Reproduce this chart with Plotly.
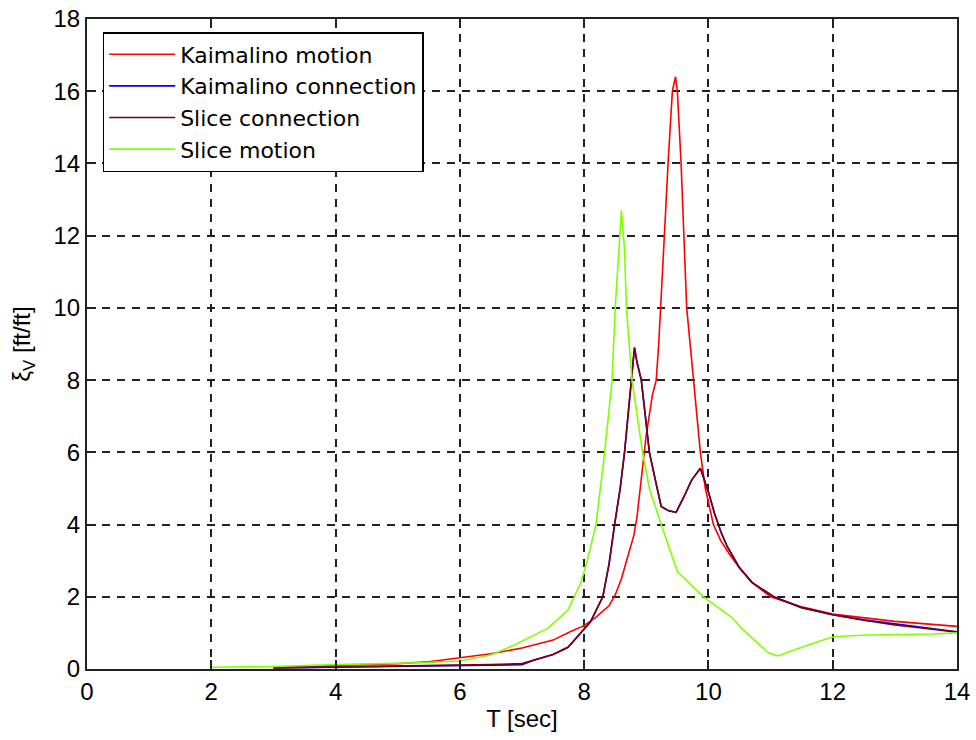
import plotly.graph_objects as go

# Kaimalino motion
t_km = [3.0, 3.5, 4.0, 4.5, 5.0, 5.5, 6.0, 6.5, 7.0, 7.5, 7.8, 8.0, 8.2, 8.4, 8.5,
        8.6, 8.7, 8.8, 8.85, 8.9, 8.95, 9.0, 9.1, 9.16, 9.2, 9.25, 9.3, 9.35, 9.42,
        9.47, 9.5, 9.56, 9.6, 9.65, 9.75, 9.87, 9.95, 10.08, 10.2, 10.35, 10.5, 10.7,
        11.0, 11.5, 12.0, 12.5, 13.0, 13.5, 14.0]
xi_km = [0.05, 0.07, 0.1, 0.12, 0.15, 0.2, 0.3, 0.42, 0.58, 0.8, 1.05, 1.2, 1.45, 1.75, 2.05,
         2.5, 3.1, 3.7, 4.2, 5.0, 5.8, 6.5, 7.6, 8.0, 9.0, 10.5, 12.3, 14.0, 16.0,
         16.4, 16.0, 14.0, 12.0, 10.0, 8.2, 6.0, 5.0, 4.0, 3.55, 3.15, 2.8, 2.4,
         2.0, 1.72, 1.52, 1.42, 1.32, 1.25, 1.18]

# Kaimalino connection
t_kc = [3.0, 4.0, 5.0, 6.1, 6.5, 7.0, 7.2, 7.5, 7.74, 7.95, 8.1, 8.3, 8.4, 8.49, 8.58,
        8.65, 8.7, 8.76, 8.81, 8.85, 8.92, 8.98, 9.05, 9.15, 9.24, 9.36, 9.48, 9.6,
        9.73, 9.87, 10.0, 10.1, 10.2, 10.3, 10.5, 10.7, 11.05, 11.5, 12.0, 12.5,
        12.9, 13.3, 13.6, 14.0]
xi_kc = [0.03, 0.05, 0.08, 0.1, 0.1, 0.12, 0.25, 0.4, 0.6, 1.0, 1.3, 2.0, 2.9, 4.0, 5.0,
         6.0, 7.0, 8.0, 8.9, 8.5, 8.0, 7.0, 6.0, 5.2, 4.5, 4.38, 4.34, 4.75,
         5.23, 5.56, 4.9, 4.3, 3.8, 3.4, 2.8, 2.4, 2.0, 1.7, 1.5, 1.36,
         1.27, 1.2, 1.12, 1.03]

# Slice connection
t_sc = [3.0, 4.0, 5.0, 6.0, 6.5, 7.0, 7.2, 7.5, 7.74, 7.95, 8.1, 8.3, 8.4, 8.49, 8.58,
        8.65, 8.7, 8.76, 8.81, 8.85, 8.92, 8.98, 9.05, 9.15, 9.24, 9.36, 9.48, 9.6,
        9.73, 9.87, 10.0, 10.1, 10.2, 10.3, 10.5, 10.7, 11.05, 11.5, 12.0, 12.5,
        13.0, 13.5, 14.0]
xi_sc = [0.03, 0.05, 0.08, 0.1, 0.12, 0.15, 0.25, 0.4, 0.6, 1.0, 1.3, 2.0, 2.9, 4.0, 5.0,
         6.0, 7.0, 8.0, 8.9, 8.5, 8.0, 7.0, 6.0, 5.2, 4.5, 4.38, 4.34, 4.75,
         5.23, 5.56, 4.9, 4.3, 3.8, 3.4, 2.8, 2.4, 2.0, 1.7, 1.5, 1.35,
         1.22, 1.12, 1.02]

# Slice motion
t_sm = [2.0, 3.0, 4.0, 5.0, 5.5, 6.0, 6.5, 6.87, 7.42, 7.74, 7.95, 8.05, 8.19, 8.33,
        8.45, 8.5, 8.56, 8.6, 8.65, 8.68, 8.77, 8.94, 9.05, 9.24, 9.5, 9.92, 10.37,
        10.53, 10.97, 11.12, 11.5, 11.94, 12.05, 12.58, 13.6, 14.0]
xi_sm = [0.05, 0.07, 0.12, 0.15, 0.18, 0.22, 0.39, 0.66, 1.13, 1.63, 2.4, 3.0, 4.0, 6.0,
         8.0, 10.0, 11.6, 12.7, 11.6, 10.0, 8.0, 6.0, 5.0, 4.0, 2.7, 2.0, 1.44,
         1.13, 0.44, 0.36, 0.6, 0.86, 0.9, 0.94, 0.97, 1.0]

x_ticks = [0, 2, 4, 6, 8, 10, 12, 14]
y_ticks = [0, 2, 4, 6, 8, 10, 12, 14, 16, 18]

series = [
    ("Kaimalino motion", t_km, xi_km, "#ff0000"),
    ("Kaimalino connection", t_kc, xi_kc, "#0000ff"),
    ("Slice connection", t_sc, xi_sc, "#800000"),
    ("Slice motion", t_sm, xi_sm, "#80ff00"),
]

fig = go.Figure()
for name, t, xi, color in series:
    fig.add_trace(go.Scatter(x=t, y=xi, mode="lines", name=name,
                             line=dict(color=color, width=1.6)))

tick_font = dict(family="Liberation Sans", size=24, color="#000000")
legend_font = dict(family="DejaVu Sans", size=22, color="#000000")
axis_common = dict(
    showline=True, linecolor="#222222", linewidth=2, mirror="ticks",
    ticks="inside", ticklen=9, tickwidth=2, tickcolor="#222222",
    showgrid=True, gridcolor="#222222", gridwidth=1.5, griddash="8px,7px",
    zeroline=False, tickfont=tick_font, automargin=False,
)

fig.update_layout(
    width=976, height=740,
    margin=dict(l=87, r=19, t=19, b=71),
    paper_bgcolor="#ffffff", plot_bgcolor="#ffffff",
    font=tick_font,
    showlegend=True,
    legend=dict(x=0.018, y=0.98, xanchor="left", yanchor="top",
                bgcolor="#ffffff", bordercolor="#000000", borderwidth=1.5,
                font=legend_font, itemwidth=66, tracegroupgap=0),
    xaxis=dict(range=[0, 14], tickvals=x_ticks, ticktext=[str(v) for v in x_ticks],
               title=dict(text="T [sec]", font=tick_font, standoff=6), **axis_common),
    yaxis=dict(range=[0, 18], tickvals=y_ticks, ticktext=[str(v) for v in y_ticks],
               title=dict(text="ξ<sub>V</sub> [ft/ft]", font=tick_font, standoff=16),
               **axis_common),
)

fig.write_html("out.html")
